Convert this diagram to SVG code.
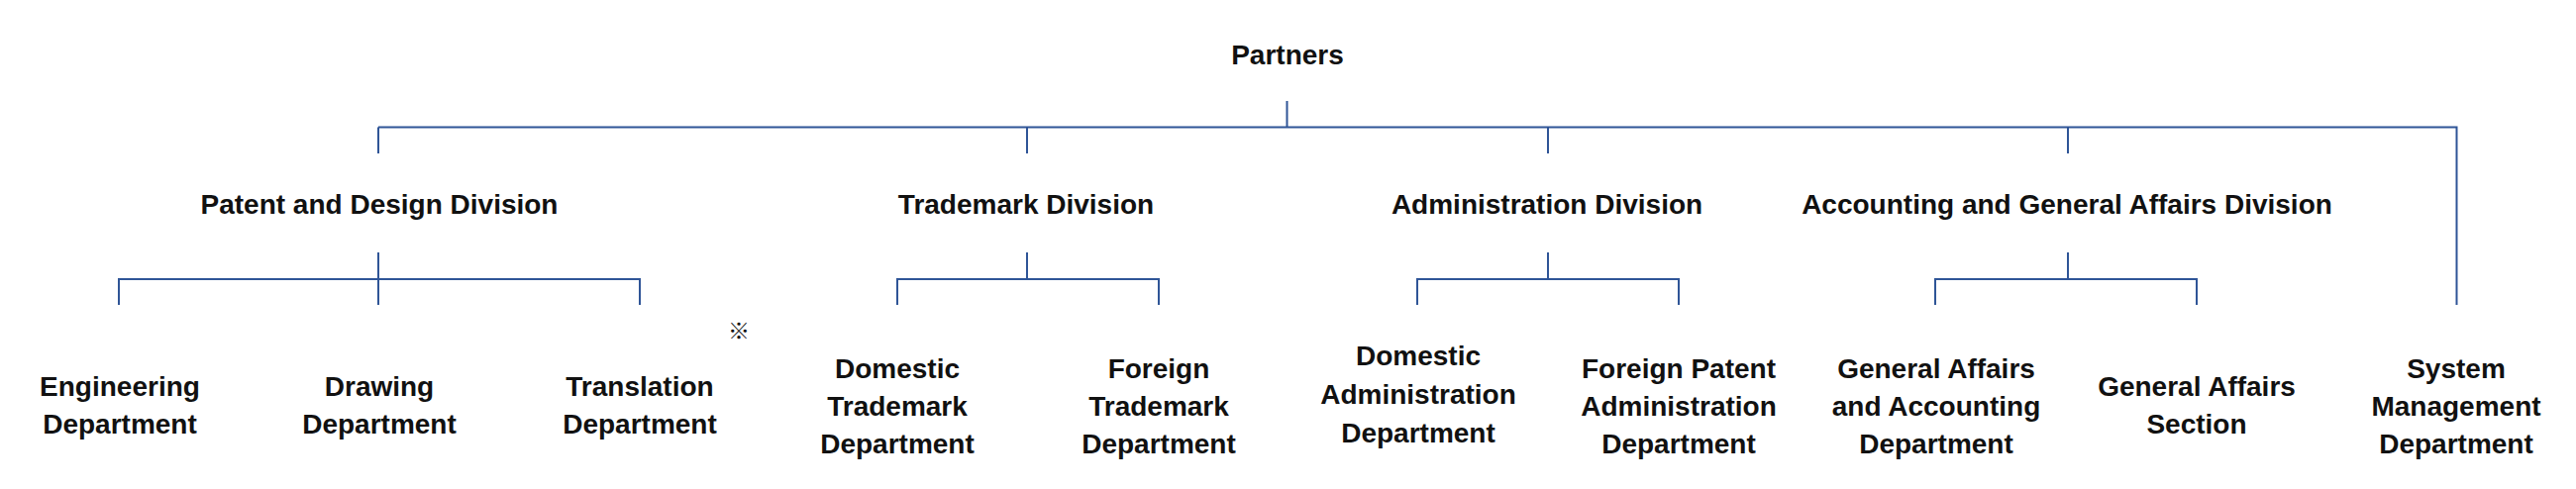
<svg xmlns="http://www.w3.org/2000/svg" width="2601" height="494" viewBox="0 0 2601 494">
<style>
  .t { font-family: "Liberation Sans", Arial, sans-serif; font-size: 28px; font-weight: bold; fill: #111; text-anchor: middle; }
  .c { fill: none; stroke: #2F5597; stroke-width: 2; }
  .n { font-family: "Noto Sans CJK JP", sans-serif; font-size: 22px; fill: #111; text-anchor: middle; }
</style>
<rect width="2601" height="494" fill="#fff"/>
<g id="connectors" class="c">
  <path d="M1299.5 102 V128.5"/>
  <path d="M382 128.5 H2480.5 V308"/>
  <path d="M382 128.5 V155"/>
  <path d="M1037 128.5 V155"/>
  <path d="M1563 128.5 V155"/>
  <path d="M2088 128.5 V155"/>
  <path d="M382 255 V308"/>
  <path d="M120 308 V282 H646 V308"/>
  <path d="M1037 255 V282"/>
  <path d="M906 308 V282 H1170 V308"/>
  <path d="M1563 255 V282"/>
  <path d="M1431 308 V282 H1695 V308"/>
  <path d="M2088 255 V282"/>
  <path d="M1954 308 V282 H2218 V308"/>
</g>
<g id="partners"><text class="t" x="1300" y="65">Partners</text></g>
<g id="patent-div"><text class="t" x="383" y="216">Patent and Design Division</text></g>
<g id="trademark-div"><text class="t" x="1036" y="216">Trademark Division</text></g>
<g id="admin-div"><text class="t" x="1562" y="216">Administration Division</text></g>
<g id="acct-div"><text class="t" x="2087" y="216">Accounting and General Affairs Division</text></g>
<g id="engineering"><text class="t" x="121" y="400">Engineering</text><text class="t" x="121" y="438">Department</text></g>
<g id="drawing"><text class="t" x="383" y="400">Drawing</text><text class="t" x="383" y="438">Department</text></g>
<g id="translation"><text class="t" x="646" y="400">Translation</text><text class="t" x="646" y="438">Department</text></g>
<g id="note"><text class="n" x="746" y="342">※</text></g>
<g id="domestic-tm"><text class="t" x="906" y="382">Domestic</text><text class="t" x="906" y="420">Trademark</text><text class="t" x="906" y="458">Department</text></g>
<g id="foreign-tm"><text class="t" x="1170" y="382">Foreign</text><text class="t" x="1170" y="420">Trademark</text><text class="t" x="1170" y="458">Department</text></g>
<g id="domestic-admin"><text class="t" x="1432" y="369">Domestic</text><text class="t" x="1432" y="408">Administration</text><text class="t" x="1432" y="447">Department</text></g>
<g id="foreign-patent-admin"><text class="t" x="1695" y="382">Foreign Patent</text><text class="t" x="1695" y="420">Administration</text><text class="t" x="1695" y="458">Department</text></g>
<g id="ga-accounting"><text class="t" x="1955" y="382">General Affairs</text><text class="t" x="1955" y="420">and Accounting</text><text class="t" x="1955" y="458">Department</text></g>
<g id="ga-section"><text class="t" x="2218" y="400">General Affairs</text><text class="t" x="2218" y="438">Section</text></g>
<g id="system-mgmt"><text class="t" x="2480" y="382">System</text><text class="t" x="2480" y="420">Management</text><text class="t" x="2480" y="458">Department</text></g>
</svg>
